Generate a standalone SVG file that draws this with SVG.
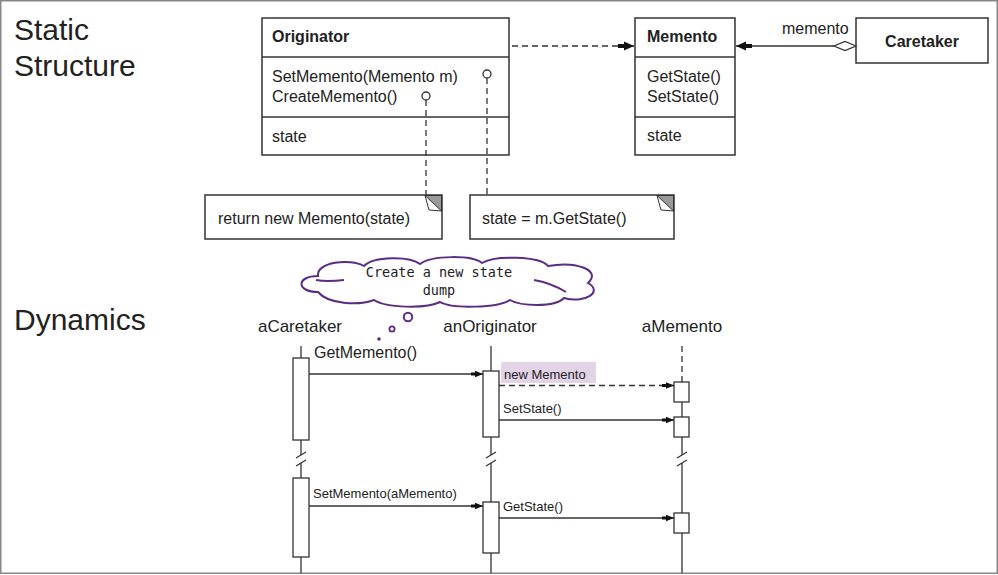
<svg xmlns="http://www.w3.org/2000/svg" width="998" height="575" viewBox="0 0 998 575">
<defs>
<style>
.t{font-family:"Liberation Sans",Arial,Helvetica,sans-serif;fill:#222}
.big{font-size:30px}
.cls{font-size:16px}
.b{font-weight:bold}
.seq{font-size:17px}
.msg{font-size:13px}
.box{fill:#fff;stroke:#333;stroke-width:1.5}
.ln{fill:none;stroke:#333;stroke-width:1.3}
.dash{fill:none;stroke:#333;stroke-width:1.3;stroke-dasharray:6 4}
.act{fill:#fff;stroke:#333;stroke-width:1.3}
.cloud{fill:#fff;stroke:#5b2c83;stroke-width:2}
.mono{font-family:"DejaVu Sans Mono","Liberation Mono",monospace;font-size:13.5px;fill:#222}
</style>
<marker id="ahBig" viewBox="-6 -5 16 10" refX="10" refY="0" markerWidth="16" markerHeight="10" markerUnits="userSpaceOnUse" orient="auto">
<path d="M-6,-2 L0,-2 L0,-4.5 L10,0 L0,4.5 L0,2 L-6,2 Z" fill="#111"/>
</marker>
<marker id="ahSm" viewBox="-4 -4 12 8" refX="8" refY="0" markerWidth="12" markerHeight="8" markerUnits="userSpaceOnUse" orient="auto">
<path d="M-4,-1.5 L0,-1.5 L0,-3.3 L8,0 L0,3.3 L0,1.5 L-4,1.5 Z" fill="#111"/>
</marker>
</defs>
<rect x="0" y="0" width="998" height="575" fill="#fff"/>
<rect x="0.75" y="0.75" width="996.5" height="572.5" fill="none" stroke="#888" stroke-width="1.5"/>

<g id="titles">
<text class="t big" x="14" y="40">Static</text>
<text class="t big" x="14" y="76">Structure</text>
<text class="t big" x="14" y="330">Dynamics</text>
</g>

<g id="originator">
<rect class="box" x="262" y="18" width="247" height="137"/>
<line class="ln" x1="262" y1="57" x2="509" y2="57"/>
<line class="ln" x1="262" y1="117" x2="509" y2="117"/>
<text class="t cls b" x="272" y="42">Originator</text>
<text class="t cls" x="272" y="82">SetMemento(Memento m)</text>
<text class="t cls" x="272" y="102">CreateMemento()</text>
<text class="t cls" x="272" y="142">state</text>
</g>

<g id="memento">
<rect class="box" x="635" y="18" width="100" height="137"/>
<line class="ln" x1="635" y1="57" x2="735" y2="57"/>
<line class="ln" x1="635" y1="117" x2="735" y2="117"/>
<text class="t cls b" x="647" y="42">Memento</text>
<text class="t cls" x="647" y="82">GetState()</text>
<text class="t cls" x="647" y="102">SetState()</text>
<text class="t cls" x="647" y="141">state</text>
</g>

<g id="caretaker">
<rect class="box" x="856" y="18" width="132" height="45"/>
<text class="t cls b" x="922" y="47" text-anchor="middle">Caretaker</text>
</g>

<g id="note1">
<rect class="box" x="205" y="195" width="237" height="44"/>
<path d="M425,195.5 L441.5,195.5 L441.5,211 Z" fill="#999" stroke="#333" stroke-width="1"/>
<path d="M425,195.5 L429,210 L441.5,211" fill="none" stroke="#333" stroke-width="1"/>
<text class="t cls" x="218" y="224">return new Memento(state)</text>
</g>

<g id="note2">
<rect class="box" x="470" y="195" width="204" height="44"/>
<path d="M657,195.5 L673.5,195.5 L673.5,211 Z" fill="#999" stroke="#333" stroke-width="1"/>
<path d="M657,195.5 L661,210 L673.5,211" fill="none" stroke="#333" stroke-width="1"/>
<text class="t cls" x="482" y="224">state = m.GetState()</text>
</g>

<g id="connectors">
<line class="dash" x1="512" y1="46" x2="634" y2="46" marker-end="url(#ahBig)"/>
<line class="ln" x1="834" y1="46" x2="736" y2="46" marker-end="url(#ahBig)"/>
<path d="M856,46 L845,41.5 L834,46 L845,50.5 Z" fill="#fff" stroke="#333" stroke-width="1.3"/>
<text class="t cls" x="782" y="34">memento</text>
<line class="ln" x1="487" y1="78" x2="487" y2="84"/>
<line class="dash" x1="487" y1="88" x2="487" y2="195"/>
<circle cx="487" cy="74" r="4" fill="#fff" stroke="#333" stroke-width="1.3"/>
<line class="ln" x1="426" y1="100" x2="426" y2="106"/>
<line class="dash" x1="426" y1="110" x2="426" y2="195"/>
<circle cx="426" cy="96" r="4" fill="#fff" stroke="#333" stroke-width="1.3"/>
</g>

<g id="thought-cloud">
<path class="cloud" d="M318,292 C296,292 296,276 318,276 C316,262 350,258 364,266 C374,256 410,256 420,264 C432,255 472,255 482,263 C494,255 540,256 548,266 C576,261 602,270 588,283 C604,292 584,304 564,298 C554,308 520,306 510,300 C498,308 452,309 440,302 C426,309 386,308 374,300 C358,306 328,304 318,292 Z"/>
<path d="M316,280 C326,282 336,281 344,280" fill="none" stroke="#5b2c83" stroke-width="2"/>
<path d="M534,280 C546,282 556,286 566,292" fill="none" stroke="#5b2c83" stroke-width="2"/>
<circle cx="408" cy="317" r="4.2" fill="#fff" stroke="#5b2c83" stroke-width="2"/>
<circle cx="392" cy="329" r="2.6" fill="#fff" stroke="#5b2c83" stroke-width="1.8"/>
<circle cx="379" cy="339" r="1.8" fill="#5b2c83"/>
<text class="mono" x="439" y="277" text-anchor="middle">Create a new state</text>
<text class="mono" x="439" y="295" text-anchor="middle">dump</text>
</g>

<g id="aCaretaker">
<text class="t seq" x="300" y="332" text-anchor="middle">aCaretaker</text>
<line class="ln" x1="301" y1="346" x2="301" y2="358"/>
<rect class="act" x="293" y="358" width="16" height="82"/>
<line class="ln" x1="301" y1="440" x2="301" y2="455"/>
<line class="ln" x1="296" y1="458" x2="306" y2="452"/>
<line class="ln" x1="296" y1="466" x2="306" y2="460"/>
<line class="ln" x1="301" y1="463" x2="301" y2="478"/>
<rect class="act" x="293" y="478" width="16" height="79"/>
<line class="ln" x1="301" y1="557" x2="301" y2="573"/>
</g>

<g id="anOriginator">
<text class="t seq" x="490" y="332" text-anchor="middle">anOriginator</text>
<line class="ln" x1="491" y1="346" x2="491" y2="371"/>
<rect class="act" x="483" y="371" width="16" height="66"/>
<line class="ln" x1="491" y1="437" x2="491" y2="455"/>
<line class="ln" x1="486" y1="458" x2="496" y2="452"/>
<line class="ln" x1="486" y1="466" x2="496" y2="460"/>
<line class="ln" x1="491" y1="463" x2="491" y2="502"/>
<rect class="act" x="483" y="502" width="16" height="51"/>
<line class="ln" x1="491" y1="553" x2="491" y2="573"/>
</g>

<g id="aMemento">
<text class="t seq" x="682" y="332" text-anchor="middle">aMemento</text>
<line class="dash" x1="682" y1="346" x2="682" y2="382"/>
<rect class="act" x="674" y="382" width="15" height="20"/>
<line class="ln" x1="682" y1="402" x2="682" y2="417"/>
<rect class="act" x="674" y="417" width="15" height="20"/>
<line class="ln" x1="682" y1="437" x2="682" y2="455"/>
<line class="ln" x1="677" y1="458" x2="687" y2="452"/>
<line class="ln" x1="677" y1="466" x2="687" y2="460"/>
<line class="ln" x1="682" y1="463" x2="682" y2="513"/>
<rect class="act" x="674" y="513" width="15" height="20"/>
<line class="ln" x1="682" y1="533" x2="682" y2="573"/>
</g>

<g id="messages">
<line class="ln" x1="309" y1="374" x2="483" y2="374" marker-end="url(#ahSm)"/>
<text class="t" font-size="16" x="314" y="358">GetMemento()</text>
<rect x="501" y="362" width="95" height="21" fill="#e3d3e6"/>
<text class="t msg" x="504" y="379">new Memento</text>
<line class="dash" x1="499" y1="385.5" x2="674" y2="385.5" marker-end="url(#ahSm)"/>
<text class="t msg" x="503" y="413">SetState()</text>
<line class="ln" x1="499" y1="420" x2="674" y2="420" marker-end="url(#ahSm)"/>
<text class="t msg" x="313" y="498">SetMemento(aMemento)</text>
<line class="ln" x1="309" y1="506" x2="483" y2="506" marker-end="url(#ahSm)"/>
<text class="t msg" x="503" y="511">GetState()</text>
<line class="ln" x1="499" y1="518" x2="674" y2="518" marker-end="url(#ahSm)"/>
</g>
</svg>
